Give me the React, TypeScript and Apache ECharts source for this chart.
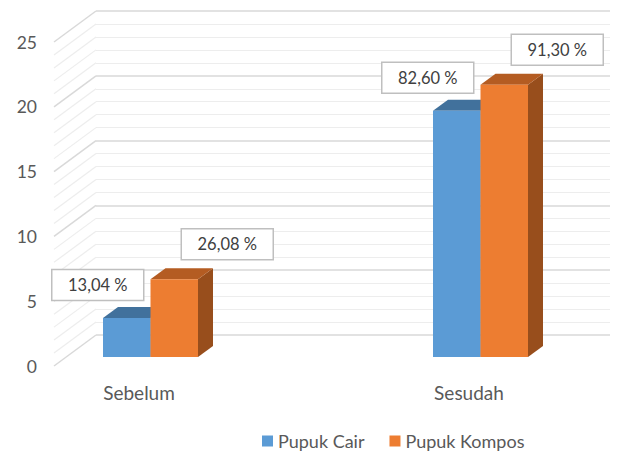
import React, { useEffect, useRef } from "react";
import * as echarts from "echarts";

const categories = ["Sebelum", "Sesudah"];
const seriesNames = ["Pupuk Cair", "Pupuk Kompos"];
const pupukCair = [3, 19];
const pupukKompos = [6, 21];
const labelsCair = ["13,04 %", "82,60 %"];
const labelsKompos = ["26,08 %", "91,30 %"];
const gridValues = [0, 1, 2, 3, 4, 5, 6, 7, 8, 9, 10, 11, 12, 13, 14, 15, 16, 17, 18, 19, 20, 21, 22, 23, 24, 25];

const COLORS = ["#5b9bd5", "#ed7d31"];
const TOP_COLORS = ["#41719c", "#b45c22"];
const SIDE_COLORS = ["#3a6790", "#984e1c"];
const FONT = "Lato, 'Open Sans', sans-serif";

// oblique depth geometry
const WALL_DX = 42;
const WALL_DY = 31;
const WALL_LEFT_OFFSET = 85; // from first category to left front edge
const BAR_FRONT_DX = 11.5;
const BAR_FRONT_DY = 9;
const BAR_DEPTH_DX = 15;
const BAR_DEPTH_DY = 11;
const BAR_W = 47.5;
const LABEL_OFFSETS = [
  [-29, -33],
  [53, -35],
];

export default function App() {
  const ref = useRef<HTMLDivElement>(null);
  useEffect(() => {
    if (!ref.current) return;
    const chart = echarts.init(ref.current, undefined, { renderer: "svg" });

    const barRender = (sIdx: number, labels: string[]) => (params: any, api: any) => {
      const cat = api.value(0);
      const v = api.value(1);
      const [cx, yTop] = api.coord([cat, v]);
      const [, yBase] = api.coord([cat, 0]);
      const x0 = cx + BAR_FRONT_DX + (sIdx === 0 ? -BAR_W : 0);
      const yT = yTop - BAR_FRONT_DY;
      const yB = yBase - BAR_FRONT_DY;
      const x1 = x0 + BAR_W;
      const dx = BAR_DEPTH_DX;
      const dy = BAR_DEPTH_DY;
      const [lox, loy] = LABEL_OFFSETS[sIdx];
      const lcx = x0 + BAR_W / 2 + lox;
      const lcy = yT + loy;
      return {
        type: "group",
        children: [
          {
            type: "polygon",
            shape: { points: [[x1, yT], [x1 + dx, yT - dy], [x1 + dx, yB - dy], [x1, yB]] },
            style: { fill: SIDE_COLORS[sIdx] },
          },
          {
            type: "polygon",
            shape: { points: [[x0, yT], [x1, yT], [x1 + dx, yT - dy], [x0 + dx, yT - dy]] },
            style: { fill: TOP_COLORS[sIdx] },
          },
          {
            type: "rect",
            shape: { x: x0, y: yT, width: BAR_W, height: yB - yT },
            style: { fill: COLORS[sIdx] },
          },
          {
            type: "rect",
            shape: { x: lcx - 46, y: lcy - 15.5, width: 92, height: 31 },
            style: { fill: "#ffffff", stroke: "#bfbfbf", lineWidth: 1.5 },
            z2: 10,
          },
          {
            type: "text",
            x: lcx,
            y: lcy,
            style: {
              text: labels[params.dataIndex],
              fill: "#404040",
              font: `16.5px ${FONT}`,
              align: "center",
              verticalAlign: "middle",
            },
            z2: 11,
          },
        ],
      };
    };

    const option: any = {
      animation: false,
      grid: [
        { left: 139, right: 152, top: 42, bottom: 87 },
        { left: 96, right: 11, top: 11, bottom: 118 },
      ],
      xAxis: [
        {
          gridIndex: 0,
          type: "category",
          data: categories,
          boundaryGap: false,
          axisLine: { show: false },
          axisTick: { show: false },
          axisLabel: { margin: 17, fontSize: 19, color: "#595959", fontFamily: FONT },
          splitLine: { show: false },
        },
        {
          gridIndex: 1,
          type: "value",
          min: 0,
          max: 1,
          show: false,
          splitLine: { show: false },
        },
      ],
      yAxis: [
        {
          gridIndex: 0,
          type: "value",
          min: 0,
          max: 25,
          interval: 5,
          position: "left",
          offset: WALL_LEFT_OFFSET,
          axisLine: { show: false },
          axisTick: { show: false },
          axisLabel: { margin: 17, fontSize: 17.5, color: "#595959", fontFamily: FONT },
          splitLine: { show: false },
        },
        {
          gridIndex: 1,
          type: "value",
          min: 0,
          max: 25,
          interval: 5,
          axisLine: { show: false },
          axisTick: { show: false },
          axisLabel: { show: false },
          splitLine: { show: true, lineStyle: { color: "#d9d9d9", width: 1.5 } },
          minorTick: { show: false, splitNumber: 5 },
          minorSplitLine: { show: true, lineStyle: { color: "#ededed", width: 1.2 } },
        },
      ],
      legend: {
        data: seriesNames,
        left: 262,
        top: 432,
        padding: 0,
        icon: "rect",
        itemWidth: 11,
        itemHeight: 11,
        itemGap: 25,
        textStyle: { fontSize: 18, color: "#595959", fontFamily: FONT },
      },
      series: [
        {
          type: "custom",
          name: "grid-diagonals",
          xAxisIndex: 0,
          yAxisIndex: 0,
          silent: true,
          z: 1,
          data: gridValues.map((v) => [0, v]),
          renderItem: (params: any, api: any) => {
            const v = api.value(1);
            const [x, y] = api.coord([0, v]);
            const left = x - WALL_LEFT_OFFSET;
            const major = v % 5 === 0;
            return {
              type: "line",
              shape: { x1: left, y1: y, x2: left + WALL_DX, y2: y - WALL_DY },
              style: { stroke: major ? "#d9d9d9" : "#ededed", lineWidth: major ? 1.5 : 1.2 },
            };
          },
        },
        {
          type: "custom",
          name: seriesNames[0],
          xAxisIndex: 0,
          yAxisIndex: 0,
          z: 5,
          itemStyle: { color: COLORS[0] },
          data: pupukCair.map((v, i) => [i, v]),
          renderItem: barRender(0, labelsCair),
        },
        {
          type: "custom",
          name: seriesNames[1],
          xAxisIndex: 0,
          yAxisIndex: 0,
          z: 6,
          itemStyle: { color: COLORS[1] },
          data: pupukKompos.map((v, i) => [i, v]),
          renderItem: barRender(1, labelsKompos),
        },
      ],
    };
    chart.setOption(option);
    return () => chart.dispose();
  }, []);
  return (
    <div
      ref={ref}
      style={{ position: "fixed", left: 0, top: 0, width: 621, height: 453, background: "#ffffff" }}
    />
  );
}
